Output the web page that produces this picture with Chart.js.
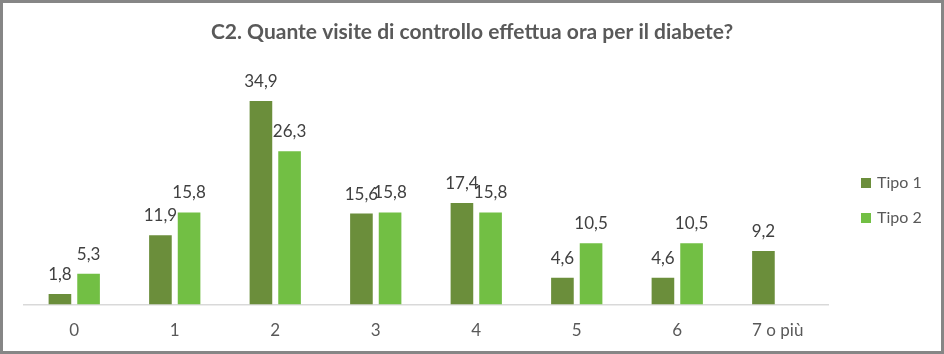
<!DOCTYPE html>
<html>
<head>
<meta charset="utf-8">
<script src="https://cdn.jsdelivr.net/npm/chart.js@4"></script>
<style>
    body { margin: 0; background: #fff; font-family: Lato, sans-serif; }
    .frame { position: relative; width: 944px; height: 354px; box-sizing: border-box; border: 3px solid #868686; }
    #visits-chart { display: block; }
    .legend { position: absolute; left: 858px; top: 163px; color: #595959; font-size: 16px; }
    .legend div { height: 35px; line-height: 32px; white-space: nowrap; }
    .legend span { display: inline-block; width: 10px; height: 10px; margin-right: 6px; }
</style>
</head>
<body>
<div class="frame">
    <canvas id="visits-chart" width="938" height="348"></canvas>
    <div class="legend" id="legend"></div>
</div>
<script>
const labels = ['0', '1', '2', '3', '4', '5', '6', '7 o più'];
const tipo1 = [1.8, 11.9, 34.9, 15.6, 17.4, 4.6, 4.6, 9.2];
const tipo2 = [5.3, 15.8, 26.3, 15.8, 15.8, 10.5, 10.5, null];

// scrive il valore sopra ogni barra (virgola decimale)
const valueLabels = {
    id: 'valueLabels',
    afterDatasetsDraw(chart) {
        const ctx = chart.ctx;
        ctx.save();
        ctx.font = '17px Lato';
        ctx.fillStyle = '#404040';
        ctx.textAlign = 'center';
        ctx.textBaseline = 'alphabetic';
        chart.data.datasets.forEach(function(ds, i) {
            chart.getDatasetMeta(i).data.forEach(function(bar, j) {
                const v = ds.data[j];
                if (v === null) return;
                ctx.fillText(v.toFixed(1).replace('.', ','), bar.x, bar.y - 14);
            });
        });
        ctx.restore();
    }
};

const data = {
    labels: labels,
    datasets: [{
        label: 'Tipo 1',
        backgroundColor: '#6b8e3b',
        data: tipo1
    }, {
        label: 'Tipo 2',
        backgroundColor: '#72bf44',
        data: tipo2
    }]
};

const config = {
    type: 'bar',
    data: data,
    options: {
        responsive: false,
        animation: false,
        layout: { padding: { left: 21, right: 21, top: 0, bottom: 2 } },
        datasets: { bar: { categoryPercentage: 0.57, barPercentage: 0.79 } },
        scales: {
            x: {
                grid: { display: false },
                border: { color: '#d9d9d9', width: 1.5 },
                ticks: { color: '#595959', font: { family: 'Lato', size: 17 }, padding: 8 }
            },
            // asse nascosto a destra: lascia lo spazio per la legenda
            y: {
                position: 'right',
                min: 0,
                max: 40,
                grid: { display: false },
                border: { display: false },
                ticks: { display: false },
                afterFit: function(scale) { scale.width = 92; }
            }
        },
        plugins: {
            title: {
                display: true,
                text: 'C2. Quante visite di controllo effettua ora per il diabete?',
                color: '#595959',
                font: { family: 'Lato', size: 21, weight: 'bold' },
                padding: { top: 17, bottom: 26 }
            },
            legend: { display: false },
            tooltip: { enabled: false }
        }
    },
    plugins: [valueLabels]
};

const visitsChart = new Chart(document.getElementById('visits-chart'), config);

// legenda a destra, come nell'originale
const legendBox = document.getElementById('legend');
data.datasets.forEach(function(ds) {
    const row = document.createElement('div');
    row.innerHTML = '<span style="background:' + ds.backgroundColor + '"></span>' + ds.label;
    legendBox.appendChild(row);
});
</script>
</body>
</html>
